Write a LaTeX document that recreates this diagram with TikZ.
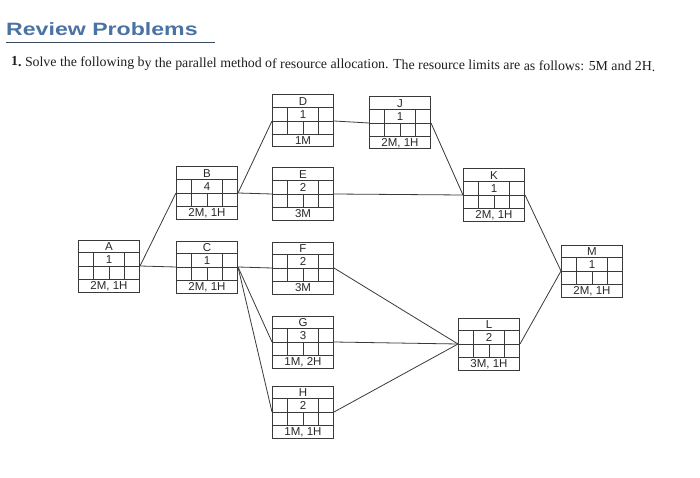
\documentclass[tikz,border=0pt]{standalone}
\usepackage{fontspec}
\setmainfont{Liberation Serif}
\setsansfont{Liberation Sans}
\usepackage{graphicx}
\definecolor{boxc}{HTML}{3A3A3A}
\definecolor{txtc}{HTML}{2A2A2A}
\definecolor{titlec}{HTML}{4A73A3}
\definecolor{rulec}{HTML}{3E4C63}
\tikzset{
  actbox/.style={draw=boxc, line width=1pt, minimum width=61pt, minimum height=52pt, inner sep=0pt},
  gridln/.style={draw=boxc, line width=0.9pt},
  boxtxt/.style={font=\sffamily\fontsize{11.5}{11.5}\selectfont, text=txtc, inner sep=0pt, anchor=base},
  conn/.style={draw=boxc, line width=0.8pt},
}
\newcommand\actbox[6]{%
  \node[actbox] (#1) at (#2,#3) {};
  \draw[gridln] ([yshift=-13pt]#1.north west) -- ([yshift=-13pt]#1.north east)
    (#1.west) -- (#1.east)
    ([yshift=13pt]#1.south west) -- ([yshift=13pt]#1.south east)
    ([xshift=15.25pt,yshift=-13pt]#1.north west) -- ([xshift=15.25pt]#1.west)
    ([xshift=-15.25pt,yshift=-13pt]#1.north east) -- ([xshift=-15.25pt]#1.east)
    ([xshift=15.25pt]#1.west) -- ([xshift=15.25pt,yshift=13pt]#1.south west)
    (#1.center) -- ([yshift=13pt]#1.south)
    ([xshift=-15.25pt]#1.east) -- ([xshift=-15.25pt,yshift=13pt]#1.south east);
  \node[boxtxt] (#1-l) at ([yshift=-10.6pt]#1.north) {#4};
  \node[boxtxt] (#1-n) at ([yshift=-23.6pt]#1.north) {#5};
  \node[boxtxt] (#1-r) at ([yshift=2.6pt]#1.south) {#6};
}
\begin{document}
\begin{tikzpicture}[x=1pt,y=-1pt]
\useasboundingbox[fill=white] (0,0) rectangle (700,478);
% title
\node[anchor=base west, inner sep=0pt, text=titlec] (title) at (6,36)
  {\scalebox{1.36}[1.05]{\sffamily\bfseries\fontsize{17}{20}\selectfont Review Problems}};
\draw[rulec, line width=1.8pt] (6,42.5) -- (215,42.5);
\node[anchor=base west, inner sep=0pt, text=black!88, rotate=-0.45] (prob) at (11,66)
  {\resizebox{644pt}{!}{\fontsize{12.5}{14}\selectfont\textbf{1.}\ Solve the following by the parallel method of resource allocation. The resource limits are as follows: 5M and 2H.}};
% boxes
\actbox{A}{109}{266}{A}{1}{2M, 1H}
\actbox{B}{207}{193}{B}{4}{2M, 1H}
\actbox{C}{207}{267}{C}{1}{2M, 1H}
\actbox{D}{303}{121}{D}{1}{1M}
\actbox{J}{400}{123}{J}{1}{2M, 1H}
\actbox{E}{303}{194}{E}{2}{3M}
\actbox{K}{494}{195}{K}{1}{2M, 1H}
\actbox{M}{592}{271}{M}{1}{2M, 1H}
\actbox{F}{303}{268}{F}{2}{3M}
\actbox{G}{303}{342}{G}{3}{1M, 2H}
\actbox{H}{303}{412}{H}{2}{1M, 1H}
\actbox{L}{489}{344}{L}{2}{3M, 1H}
% connectors
\draw[conn] (A.east) -- (B.west);
\draw[conn] (A.east) -- (C.west);
\draw[conn] (B.east) -- (D.west);
\draw[conn] (B.east) -- (E.west);
\draw[conn] (C.east) -- (F.west);
\draw[conn] (C.east) -- (G.west);
\draw[conn] (C.east) -- (H.west);
\draw[conn] (D.east) -- (J.west);
\draw[conn] (J.east) -- (K.west);
\draw[conn] (E.east) -- (K.west);
\draw[conn] (K.east) -- (M.west);
\draw[conn] (F.east) -- (L.west);
\draw[conn] (G.east) -- (L.west);
\draw[conn] (H.east) -- (L.west);
\draw[conn] (L.east) -- (M.west);
\end{tikzpicture}
\end{document}
